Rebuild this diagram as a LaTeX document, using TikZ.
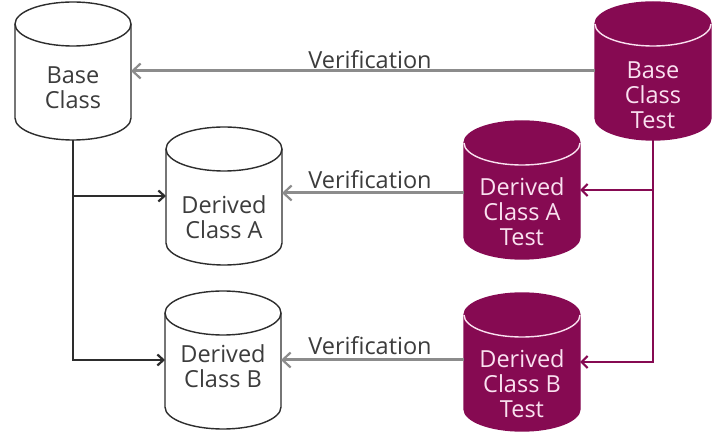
\documentclass[tikz,border=0pt]{standalone}
\usepackage{fontspec}
\setmainfont{Open Sans}
\usetikzlibrary{arrows.meta,calc}
\definecolor{plum}{RGB}{134,10,82}
\definecolor{vgray}{RGB}{140,140,140}
\definecolor{ink}{RGB}{45,45,45}
\definecolor{txt}{RGB}{60,60,60}
\definecolor{pinkish}{RGB}{250,225,240}
\tikzset{
  cylbox/.style={minimum width=116pt, minimum height=138pt, inner sep=0pt, outer sep=0pt},
  lbl/.style={font=\fontsize{23.5}{25}\selectfont, align=center, inner sep=0pt},
  verif/.style={draw=vgray, line width=3pt, -{Straight Barb[length=8pt,width=15pt,line width=2.2pt]}},
  blk/.style={draw=ink, line width=2.8pt, -{Straight Barb[length=6pt,width=11pt,line width=2.2pt]}},
  pur/.style={draw=plum, line width=2.8pt, -{Straight Barb[length=6pt,width=12pt,line width=2.2pt]}},
}
\newcommand\drawcyl[4]{%
  \path[fill=#2, draw=#3, line width=1.4pt]
    ($(#1.north west)+(0,-22)$) arc[start angle=180,end angle=0,x radius=58,y radius=22]
    -- ($(#1.south east)+(0,22)$) arc[start angle=0,end angle=-180,x radius=58,y radius=22] -- cycle;
  \draw[#4, line width=1.4pt] ($(#1.north west)+(0,-22)$) arc[start angle=180,end angle=360,x radius=58,y radius=22];
}
\begin{document}
\begin{tikzpicture}[x=1pt,y=1pt]
\useasboundingbox (0,0) rectangle (717,439);
% cylinders
\node[cylbox] (bc)  at (73,368) {};
\node[cylbox] (bct) at (653,368) {};
\node[cylbox] (da)  at (224,243) {};
\node[cylbox] (dat) at (522,249) {};
\node[cylbox] (db)  at (223,79) {};
\node[cylbox] (dbt) at (522,77) {};
\drawcyl{bc}{white}{ink}{ink}
\drawcyl{da}{white}{ink}{ink}
\drawcyl{db}{white}{ink}{ink}
\drawcyl{bct}{plum}{plum}{pinkish}
\drawcyl{dat}{plum}{plum}{pinkish}
\drawcyl{dbt}{plum}{plum}{pinkish}
% texts
\node[lbl, text=txt] (bcl) at ($(bc)+(0,-17)$) {Base\\Class};
\node[lbl, text=txt] (dal) at ($(da)+(0,-21)$) {Derived\\Class A};
\node[lbl, text=txt] (dbl) at ($(db)+(0,-6)$) {Derived\\Class B};
\node[lbl, text=pinkish] (bctl) at ($(bct)+(0,-24)$) {Base\\Class\\Test};
\node[lbl, text=pinkish] (datl) at ($(dat)+(0,-22)$) {Derived\\Class A\\Test};
\node[lbl, text=pinkish] (dbtl) at ($(dbt)+(0,-22)$) {Derived\\Class B\\Test};
% verification arrows
\draw[verif] (bct.west) -- (bc.east);
\draw[verif] (dat.west |- 0,246) -- (da.east |- 0,246);
\draw[verif] (dbt.west |- 0,79) -- (db.east |- 0,79);
\node[lbl, text=txt] (v1) at (370,379) {Verification};
\node[lbl, text=txt] (v2) at (370,259) {Verification};
\node[lbl, text=txt] (v3) at (370,93) {Verification};
% inheritance lines
\draw[blk] (bc.south) |- (db.west);
\draw[blk] (bc.south |- da.west) -- (da.west);
\draw[pur] (bct.south) |- (dbt.east);
\draw[pur] (bct.south |- dat.east) -- (dat.east);
\end{tikzpicture}
\end{document}
